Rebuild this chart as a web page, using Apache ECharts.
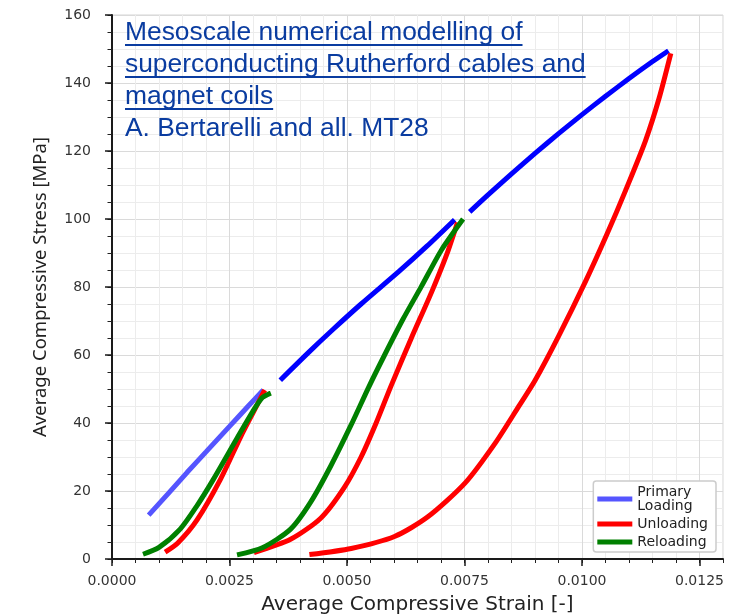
<!DOCTYPE html>
<html lang="en">
<head>
    <meta charset="UTF-8">
    <script type="text/javascript" src="https://cdn.jsdelivr.net/npm/echarts@6/dist/echarts.min.js" charset="utf-8"></script>
    <title>Stress strain</title>
    <style>
        html, body { margin: 0; padding: 0; background: #fff; }
        #main { width: 731px; height: 616px; }
    </style>
</head>
<body>
<div id="main"></div>
<script>
// [strain, stress MPa]
var primaryLoad1 = [[0.00078, 12.9], [0.0012, 19.3], [0.0016, 25.5], [0.0020, 31.5], [0.0025, 39], [0.0029, 45], [0.00322, 49.7]];
var primaryLoad2 = [[0.00358, 52.6], [0.0042, 61], [0.0047, 67.5], [0.0053, 75], [0.0061, 84.5], [0.0067, 92], [0.00729, 99.8]];
var primaryLoad3 = [[0.00761, 102.1], [0.0080, 107.1], [0.0085, 113.3], [0.0090, 119.3], [0.0095, 125.1], [0.0100, 130.7], [0.0105, 136.1], [0.0110, 141.3], [0.0115, 146.3], [0.01184, 149.5]];

var unload1 = [[0.00113, 2], [0.0014, 4.7], [0.00181, 11.5], [0.00231, 23.5], [0.00274, 36], [0.0030, 43], [0.00325, 49.7]];
var unload2 = [[0.00302, 1.9], [0.0038, 5.8], [0.00444, 12], [0.00494, 21], [0.0053, 30], [0.00562, 40], [0.00594, 51], [0.00637, 65], [0.0068, 78.5], [0.00712, 89.5], [0.00735, 99]];
var unload3 = [[0.0042, 1.3], [0.00509, 3.1], [0.00601, 6.6], [0.00672, 12.4], [0.00751, 22.3], [0.00815, 34], [0.00865, 44.8], [0.0090, 52.5], [0.0095, 65.5], [0.01007, 81.5], [0.01053, 95.5], [0.01093, 108.5], [0.01135, 123], [0.01164, 135.5], [0.01189, 148.7]];

var reload1 = [[0.00066, 1.4], [0.001, 3.4], [0.00145, 8.8], [0.0018, 15.5], [0.00216, 23.5], [0.00266, 35.5], [0.003, 43.5], [0.0032, 47.5], [0.00338, 48.8]];
var reload2 = [[0.00266, 1.2], [0.0032, 3.3], [0.0038, 8.8], [0.00423, 16.8], [0.00466, 27.5], [0.00509, 39.5], [0.00546, 50.5], [0.0058, 60], [0.00619, 70.5], [0.00658, 80.1], [0.00701, 90.9], [0.00747, 100]];

var xTicks = [0, 0.0025, 0.005, 0.0075, 0.01, 0.0125];
var titleLines = ['Mesoscale numerical modelling of', 'superconducting Rutherford cables and', 'magnet coils'];
var authorLine = 'A. Bertarelli and all. MT28';

var titleFont = '26.4px "Liberation Sans", Arial, sans-serif';
var titleColor = '#0a3ca0';
var tickFont = 'DejaVu Sans';

var chartDom = document.getElementById('main');
var myChart = echarts.init(chartDom, null, {renderer: 'canvas'});
var option;

// width of the underlined title lines
var measureCtx = document.createElement('canvas').getContext('2d');
measureCtx.font = titleFont;

var graphics = [];
titleLines.forEach(function (t, i) {
    var baseline = 42 + i * 32;
    graphics.push({
        type: 'text', x: 125, y: baseline - 9, z: 10,
        style: {text: t, font: titleFont, fill: titleColor, verticalAlign: 'middle'}
    });
    graphics.push({
        type: 'rect', z: 10,
        shape: {x: 125, y: baseline + 2, width: measureCtx.measureText(t).width, height: 2},
        style: {fill: titleColor}
    });
});
graphics.push({
    type: 'text', x: 125, y: 42 + 3 * 32 - 9, z: 10,
    style: {text: authorLine, font: titleFont, fill: titleColor, verticalAlign: 'middle'}
});

function lineSeries(name, data, color) {
    return {
        name: name,
        type: 'line',
        xAxisIndex: 1,
        yAxisIndex: 1,
        data: data,
        showSymbol: false,
        symbol: 'none',
        smooth: 0.25,
        color: color,
        lineStyle: {width: 5, color: color, cap: 'butt'},
        emphasis: {disabled: true}
    };
}

option = {
    animation: false,
    backgroundColor: '#fff',
    grid: {
        left: 112, right: 8, top: 15, bottom: 57,
        outerBoundsMode: 'none',
        containLabel: false,
        show: true, borderColor: '#d4d4d4', borderWidth: 1
    },
    graphic: graphics,
    legend: {
        data: ['Primary Loading', 'Unloading', 'Reloading'],
        orient: 'vertical',
        right: 15,
        bottom: 64,
        padding: [4, 8, 3, 4],
        itemGap: 4,
        itemWidth: 35,
        itemHeight: 5,
        icon: 'rect',
        backgroundColor: '#fff',
        borderColor: '#cccccc',
        borderWidth: 1.5,
        borderRadius: 3,
        formatter: function (name) {
            return name === 'Primary Loading' ? 'Primary\nLoading' : name;
        },
        textStyle: {fontFamily: tickFont, fontSize: 14, lineHeight: 14, color: '#222'}
    },
    xAxis: [
        {
            // minor grid / ticks
            type: 'value', min: 0, max: 0.013, interval: 0.0005,
            position: 'bottom',
            axisLine: {show: false, onZero: false},
            axisTick: {show: true, length: 4, lineStyle: {color: '#222', width: 1}},
            axisLabel: {show: false},
            splitLine: {show: true, lineStyle: {color: '#ececec', width: 1}}
        },
        {
            type: 'value', min: 0, max: 0.013, interval: 0.0025,
            position: 'bottom',
            name: 'Average Compressive Strain [-]',
            nameLocation: 'middle',
            nameGap: 36,
            nameTextStyle: {fontFamily: tickFont, fontSize: 20, color: '#222'},
            axisLine: {show: true, onZero: false, lineStyle: {color: '#1a1a1a', width: 2}},
            axisTick: {show: true, length: 7, customValues: xTicks, lineStyle: {color: '#1a1a1a', width: 1.5}},
            axisLabel: {
                show: true, margin: 15, customValues: xTicks,
                fontFamily: tickFont, fontSize: 14, color: '#333',
                formatter: function (v) { return v.toFixed(4); }
            },
            splitLine: {show: true, lineStyle: {color: '#dadada', width: 1}}
        }
    ],
    yAxis: [
        {
            type: 'value', min: 0, max: 160, interval: 5,
            position: 'left',
            axisLine: {show: false, onZero: false},
            axisTick: {show: true, length: 4.5, lineStyle: {color: '#222', width: 1}},
            axisLabel: {show: false},
            splitLine: {show: true, lineStyle: {color: '#ececec', width: 1}}
        },
        {
            type: 'value', min: 0, max: 160, interval: 20,
            position: 'left',
            name: 'Average Compressive Stress [MPa]',
            nameLocation: 'middle',
            nameGap: 62,
            nameTextStyle: {fontFamily: 'Noto Sans', fontSize: 18.5, color: '#222'},
            axisLine: {show: true, onZero: false, lineStyle: {color: '#1a1a1a', width: 2}},
            axisTick: {show: true, length: 7, lineStyle: {color: '#1a1a1a', width: 1.5}},
            axisLabel: {show: true, margin: 21, fontFamily: tickFont, fontSize: 14, color: '#333'},
            splitLine: {show: true, lineStyle: {color: '#dadada', width: 1}}
        }
    ],
    series: [
        lineSeries('Primary Loading', primaryLoad1, '#5555ff'),
        lineSeries('Primary Loading cont.', primaryLoad2, '#0000ff'),
        lineSeries('Primary Loading cont.', primaryLoad3, '#0000ff'),
        lineSeries('Unloading', unload1, '#ff0000'),
        lineSeries('Unloading', unload2, '#ff0000'),
        lineSeries('Unloading', unload3, '#ff0000'),
        lineSeries('Reloading', reload1, '#008000'),
        lineSeries('Reloading', reload2, '#008000')
    ]
};

option && myChart.setOption(option);
</script>
</body>
</html>
